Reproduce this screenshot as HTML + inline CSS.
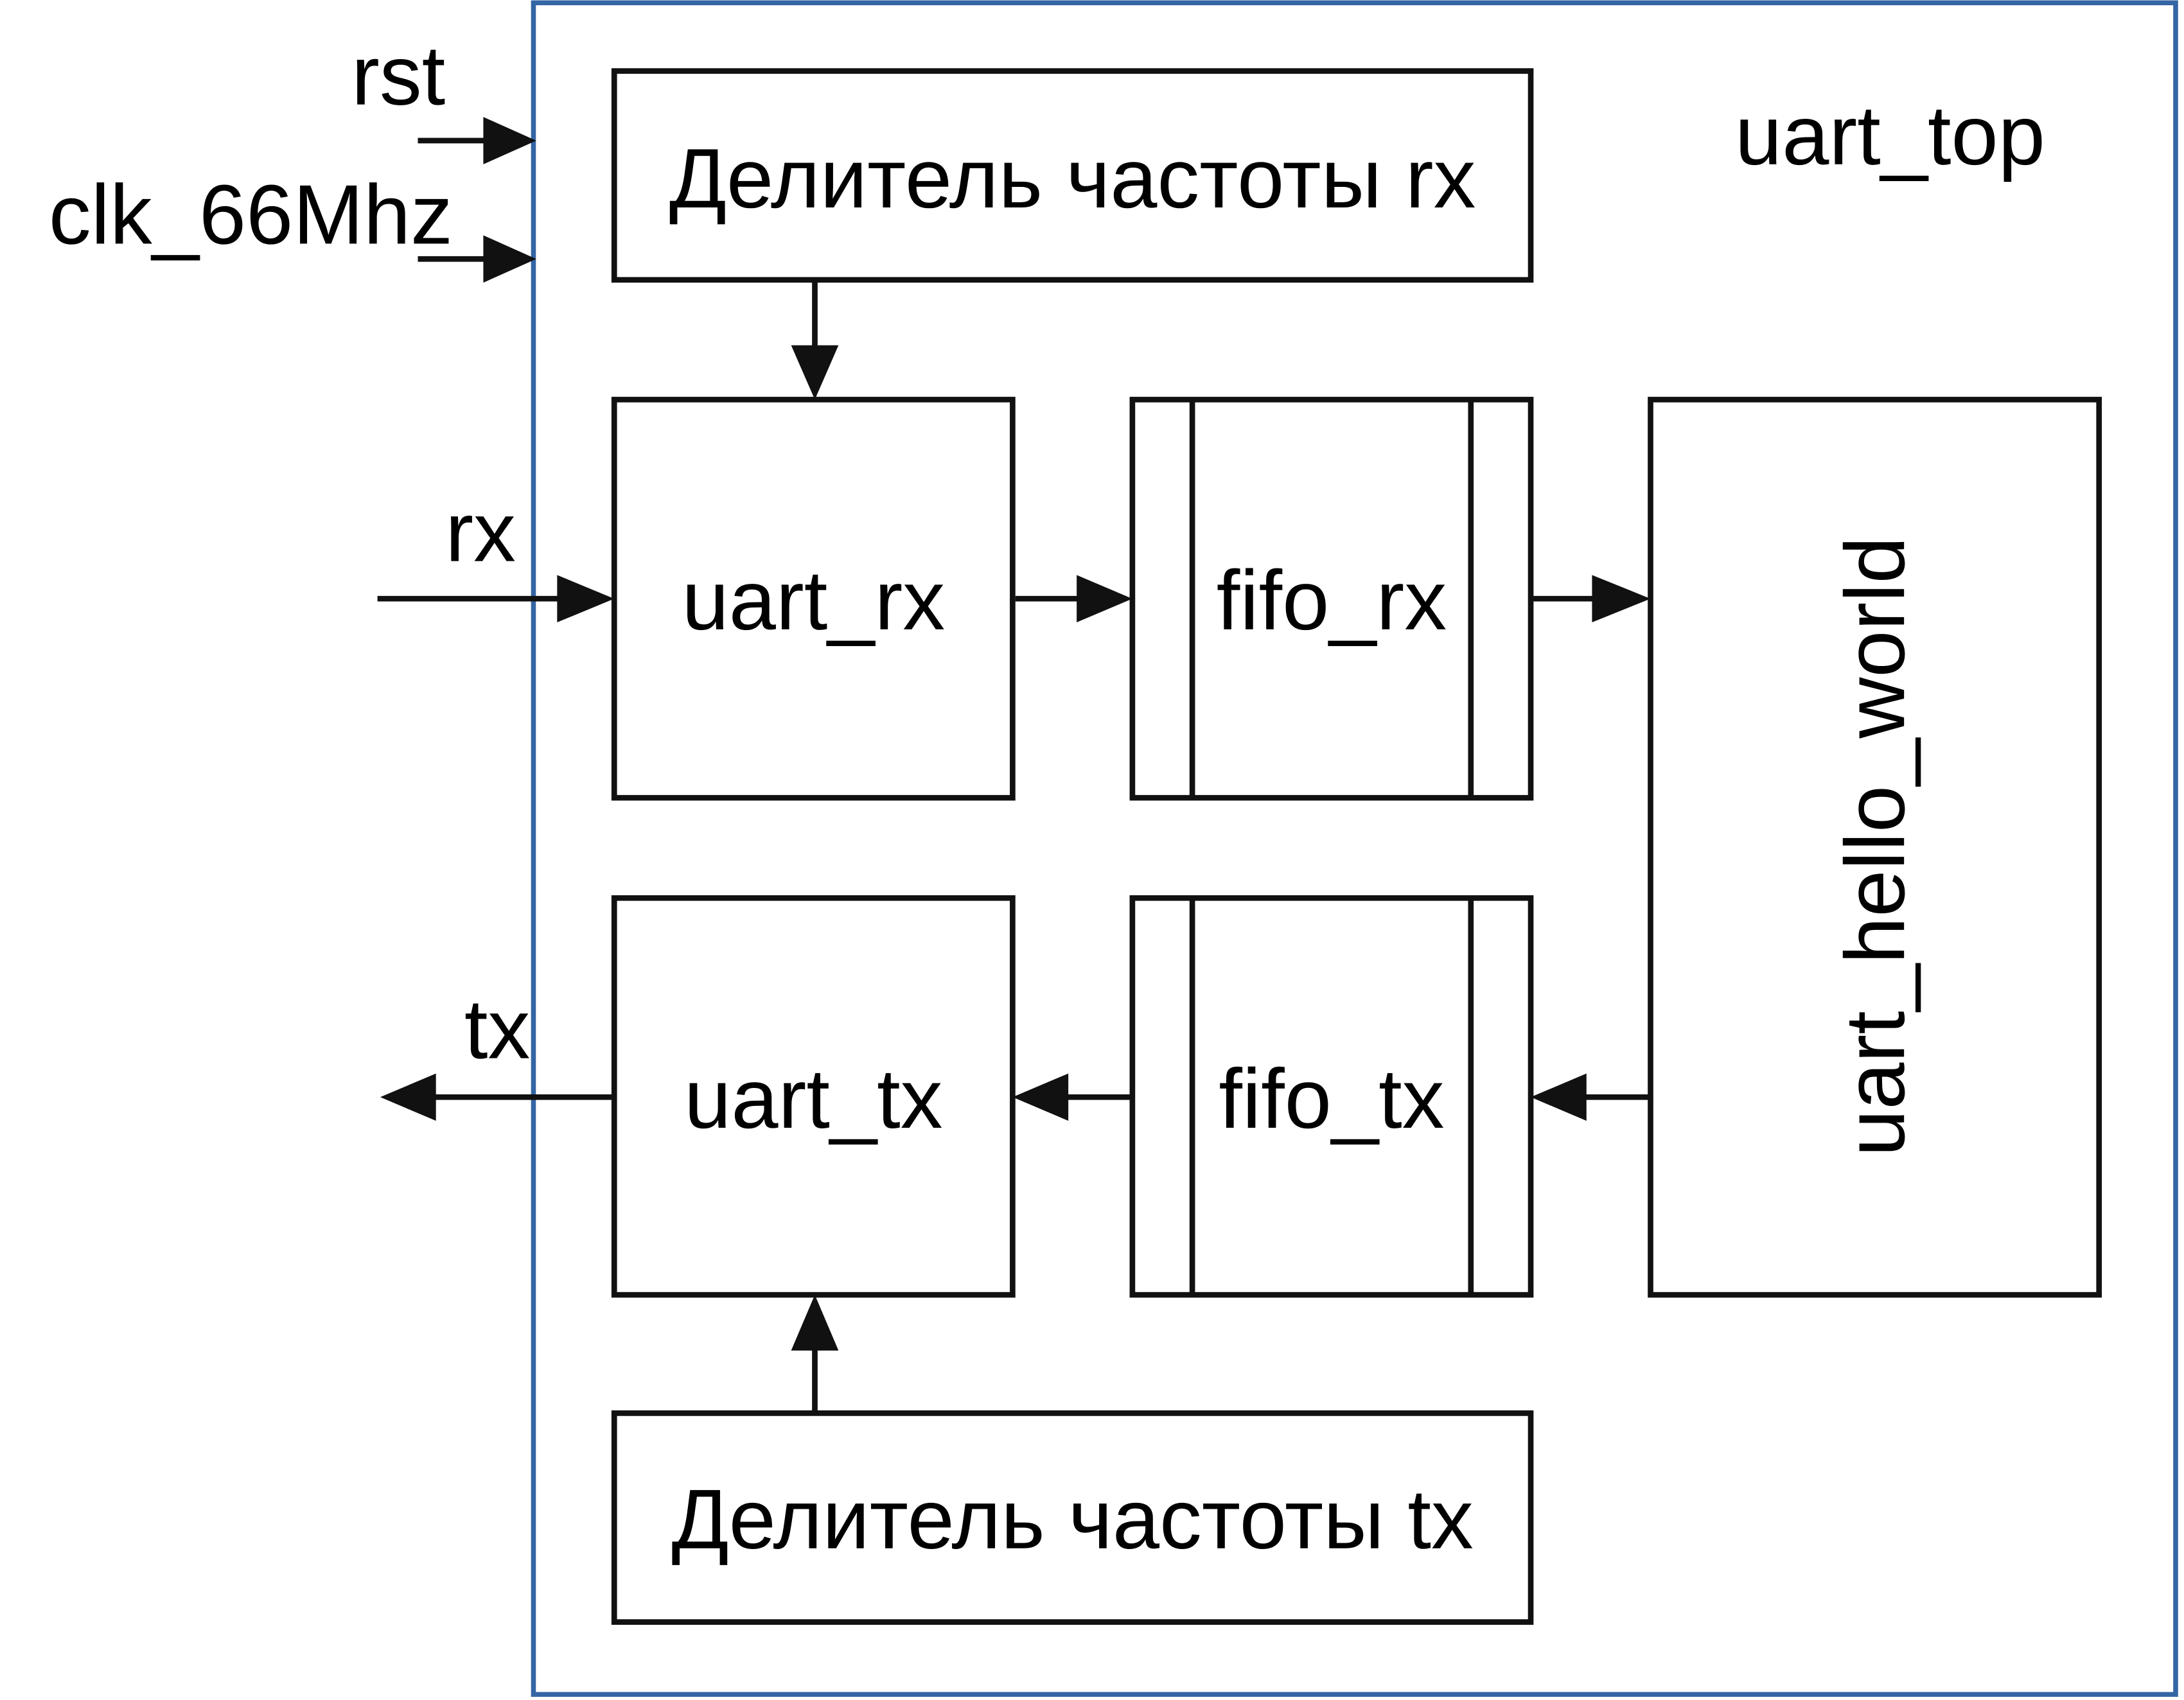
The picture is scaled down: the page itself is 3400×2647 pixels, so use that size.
<!DOCTYPE html>
<html><head><meta charset="utf-8">
<style>
html,body{margin:0;padding:0;background:#fff;}
svg{display:block;}
text{font-family:"Liberation Sans",sans-serif;fill:#000;}
</style></head>
<body>
<svg width="3400" height="2647" viewBox="0 0 1568 1221" preserveAspectRatio="none" xmlns="http://www.w3.org/2000/svg">
<rect x="0" y="0" width="1568" height="1221" fill="#fff"/>
<rect x="383" y="2" width="1179" height="1215" fill="none" stroke="#3465a4" stroke-width="3.5"/>
<g fill="none" stroke="#111" stroke-width="4">
<rect x="441" y="51" width="658" height="150"/>
<rect x="441" y="287" width="286" height="286"/>
<rect x="813" y="287" width="286" height="286"/>
<line x1="856" y1="287" x2="856" y2="573"/>
<line x1="1056" y1="287" x2="1056" y2="573"/>
<rect x="1185" y="287" width="322" height="643"/>
<rect x="441" y="645" width="286" height="285"/>
<rect x="813" y="645" width="286" height="285"/>
<line x1="856" y1="645" x2="856" y2="930"/>
<line x1="1056" y1="645" x2="1056" y2="930"/>
<rect x="441" y="1015" width="658" height="150"/>
<line x1="300" y1="101" x2="350" y2="101"/>
<line x1="300" y1="186" x2="350" y2="186"/>
<line x1="271" y1="430" x2="402" y2="430"/>
<line x1="729" y1="430" x2="775" y2="430"/>
<line x1="1099" y1="430" x2="1145" y2="430"/>
<line x1="1185" y1="788" x2="1137" y2="788"/>
<line x1="813" y1="788" x2="765" y2="788"/>
<line x1="441" y1="788" x2="311" y2="788"/>
<line x1="585" y1="201" x2="585" y2="250"/>
<line x1="585" y1="1015" x2="585" y2="968"/>
</g>
<g fill="#111">
<polygon points="347,84 385,101 347,118"/>
<polygon points="347,169 385,186 347,203"/>
<polygon points="400,413 441,430 400,447"/>
<polygon points="773,413 813,430 773,447"/>
<polygon points="1143,413 1185,430 1143,447"/>
<polygon points="1139,771 1099,788 1139,805"/>
<polygon points="767,771 727,788 767,805"/>
<polygon points="313,771 273,788 313,805"/>
<polygon points="568,248 585,287 602,248"/>
<polygon points="568,970 585,930 602,970"/>
</g>
<g font-size="60.7">
<text x="770" y="149" text-anchor="middle">Делитель частоты rx</text>
<text x="584" y="452" text-anchor="middle">uart_rx</text>
<text x="956" y="452" text-anchor="middle">fifo_rx</text>
<text x="584" y="810" text-anchor="middle">uart_tx</text>
<text x="956" y="810" text-anchor="middle">fifo_tx</text>
<text x="770" y="1112" text-anchor="middle">Делитель частоты tx</text>
<text x="1357" y="118" text-anchor="middle">uart_top</text>
<text x="286" y="75" text-anchor="middle">rst</text>
<text x="35" y="175">clk_66Mhz</text>
<text x="345" y="403" text-anchor="middle">rx</text>
<text x="357" y="760" text-anchor="middle">tx</text>
<text transform="translate(1367,608) rotate(-90)" text-anchor="middle">uart_hello_world</text>
</g>
</svg>
</body></html>
